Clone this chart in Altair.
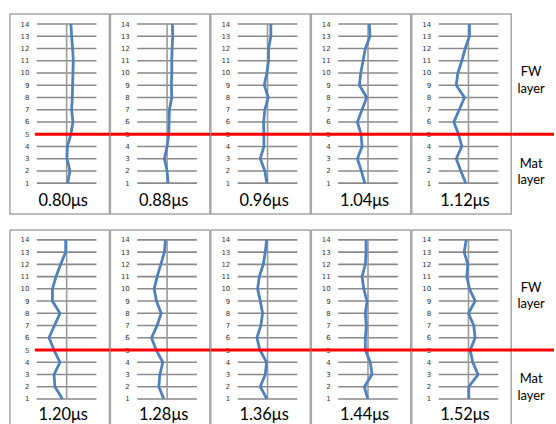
import altair as alt
import pandas as pd

# ---------------- data ----------------
labels = ["0.80μs", "0.88μs", "0.96μs", "1.04μs", "1.12μs",
          "1.20μs", "1.28μs", "1.36μs", "1.44μs", "1.52μs"]
levels = list(range(1, 15))
# horizontal offset of the profile at each level (1 -> 14)
p080 = [1, 3.3, 0.3, 0.7, 4.3, 6.3, 5, 5.7, 6, 6.3, 6.7, 6, 5, 4.3]
p088 = [1, 0, -2.7, 0, 1.7, 2, 2.3, 4.7, 4.3, 4.7, 4.7, 5, 5.7, 5.3]
p096 = [-0.7, -2.7, -7.3, -3.7, -3.7, -4, -2.7, 0.7, -3.3, -0.7, 1, 1, 3.3, 3.3]
p104 = [-3.3, -6.7, -10.7, -6, -7, -10.7, -6, -1.3, -8.7, -7.3, -5, -2.7, 2, 1.3]
p112 = [-2.7, -7.7, -12.3, -6.7, -10, -14.7, -9.3, -4, -12.3, -10.7, -6.7, -3.3, 1, 1]
p120 = [-4.3, -11.7, -12.7, -6.7, -12.7, -17.7, -12.3, -6.7, -14.3, -14.3, -10.7, -6, -1, -1]
p128 = [-3.3, -8.3, -7.3, -4.3, -11, -15.7, -10, -6, -10.7, -13, -10, -6.3, -2.7, -1.7]
p136 = [-0.7, -7.3, -2.3, -1, -7.7, -10.7, -6.7, -5, -7.3, -10, -8.3, -4.3, -2.3, -1]
p144 = [-0.3, -3.7, 4, 2.3, -2.7, -2.7, -1.7, -2.7, -1, -4.3, -6, -2.7, -2, -2]
p152 = [0.3, 0.3, 9.7, 4.3, 1.7, 6.7, 5.3, 0, 6.7, 1, -1.7, -0.7, -4.3, -2.3]
profiles = [p080, p088, p096, p104, p112, p120, p128, p136, p144, p152]
boundary_level = 5
side_labels = ["FW\nlayer", "Mat\nlayer"]
side_levels = [10.1, 2.6]

# ---------------- layout / style ----------------
XMIN, XMAX = -57, 43
GRID_HALF = 30
YTOP = 14.8125
YBOT = [-1.51875, -1.1125]
HEIGHTS = [201, 196]
TITLE_Y = [-13.5, -10.5]
PANEL_W = 100
SIDE_W = 42

GRID_C = "#8a8a8a"
CENTER_C = "#9a9a9a"
BORDER_C = "#a6a6a6"
BLUE = "#4f81bd"
RED = "#ff0000"
FONT = "Lato"


def panel(i, row):
    df = pd.DataFrame({"level": levels, "offset": profiles[i]})
    xs = alt.Scale(domain=[XMIN, XMAX], nice=False, zero=False)
    ys = alt.Scale(domain=[YBOT[row], YTOP], nice=False, zero=False)
    xaxis = alt.Axis(title=labels[i], labels=False, ticks=False, domain=False,
                     grid=False, titleX=53, titleY=TITLE_Y[row],
                     titleBaseline="middle", titleAlign="center",
                     titleFont=FONT, titleFontSize=16.5, titleFontWeight="normal",
                     titleColor="#000000")
    yaxis = alt.Axis(title=None, values=levels, format="d", grid=False,
                     domain=False, ticks=False, tickSize=0, offset=-21,
                     labelPadding=2, labelFontSize=7, labelColor="#333333",
                     labelFont="DejaVu Sans", labelOverlap=False)
    base = alt.Chart(df)
    one = alt.Chart(pd.DataFrame({"k": [0]}))

    grid = base.mark_rule(color=GRID_C, strokeWidth=1.6).encode(
        x=alt.datum(-GRID_HALF, type="quantitative", scale=xs, axis=xaxis),
        x2=alt.datum(GRID_HALF),
        y=alt.Y("level:Q", scale=ys, axis=yaxis),
    )
    center = one.mark_rule(color=CENTER_C, strokeWidth=1.6).encode(
        x=alt.datum(0, type="quantitative", scale=xs, axis=xaxis),
        y=alt.datum(levels[0], type="quantitative", scale=ys, axis=yaxis),
        y2=alt.datum(levels[-1]),
    )
    line = base.mark_line(color=BLUE, strokeWidth=2.8).encode(
        x=alt.X("offset:Q", scale=xs, axis=xaxis),
        y=alt.Y("level:Q", scale=ys, axis=yaxis),
        order=alt.Order("level:Q"),
    )
    red_start = -32 if i % 5 == 0 else XMIN
    red = one.mark_rule(color=RED, strokeWidth=3).encode(
        x=alt.datum(red_start, type="quantitative", scale=xs, axis=xaxis),
        x2=alt.datum(XMAX + 1),
        y=alt.datum(boundary_level, type="quantitative", scale=ys, axis=yaxis),
    )
    layers = [grid, center, line]
    if row == 1:
        bl = one.mark_rule(color=BORDER_C, strokeWidth=1.5).encode(
            x=alt.datum(XMIN, type="quantitative", scale=xs, axis=xaxis),
            y=alt.datum(YBOT[row], type="quantitative", scale=ys, axis=yaxis),
            y2=alt.datum(YTOP),
        )
        br = one.mark_rule(color=BORDER_C, strokeWidth=1.5).encode(
            x=alt.datum(XMAX, type="quantitative", scale=xs, axis=xaxis),
            y=alt.datum(YBOT[row], type="quantitative", scale=ys, axis=yaxis),
            y2=alt.datum(YTOP),
        )
        bt = one.mark_rule(color=BORDER_C, strokeWidth=1.5).encode(
            x=alt.datum(XMIN, type="quantitative", scale=xs, axis=xaxis),
            x2=alt.datum(XMAX),
            y=alt.datum(YTOP, type="quantitative", scale=ys, axis=yaxis),
        )
        layers += [bl, br, bt]
    layers.append(red)
    ch = alt.layer(*layers).properties(width=PANEL_W, height=HEIGHTS[row])
    if row == 0:
        ch = ch.properties(view=alt.ViewBackground(stroke=BORDER_C, strokeWidth=1.5))
    return ch


def side(row):
    xs = alt.Scale(domain=[0, SIDE_W], nice=False, zero=False)
    ys = alt.Scale(domain=[YBOT[row], YTOP], nice=False, zero=False)
    one = alt.Chart(pd.DataFrame({"k": [0]}))
    red = one.mark_rule(color=RED, strokeWidth=3).encode(
        x=alt.datum(0, type="quantitative", scale=xs, axis=None),
        x2=alt.datum(SIDE_W),
        y=alt.datum(boundary_level, type="quantitative", scale=ys, axis=None),
    )
    txt = alt.Chart(pd.DataFrame({"text": side_labels, "level": side_levels})).mark_text(
        font=FONT, fontSize=13, lineHeight=17, lineBreak="\n", align="center",
        baseline="middle", color="#000000"
    ).encode(
        x=alt.datum(19, type="quantitative", scale=xs, axis=None),
        y=alt.Y("level:Q", scale=ys, axis=None),
        text="text:N",
    )
    return alt.layer(red, txt).properties(width=SIDE_W, height=HEIGHTS[row])


rows = []
for r in range(2):
    panels = [panel(r * 5 + j, r) for j in range(5)] + [side(r)]
    rows.append(alt.hconcat(*panels, spacing=1, bounds="flush"))

chart = alt.vconcat(*rows, spacing=14).properties(
    padding={"left": 9, "top": 12, "right": 0, "bottom": 0}
).configure_view(stroke=None)

chart.save("out.html", embed_options={"renderer": "svg", "actions": False})
